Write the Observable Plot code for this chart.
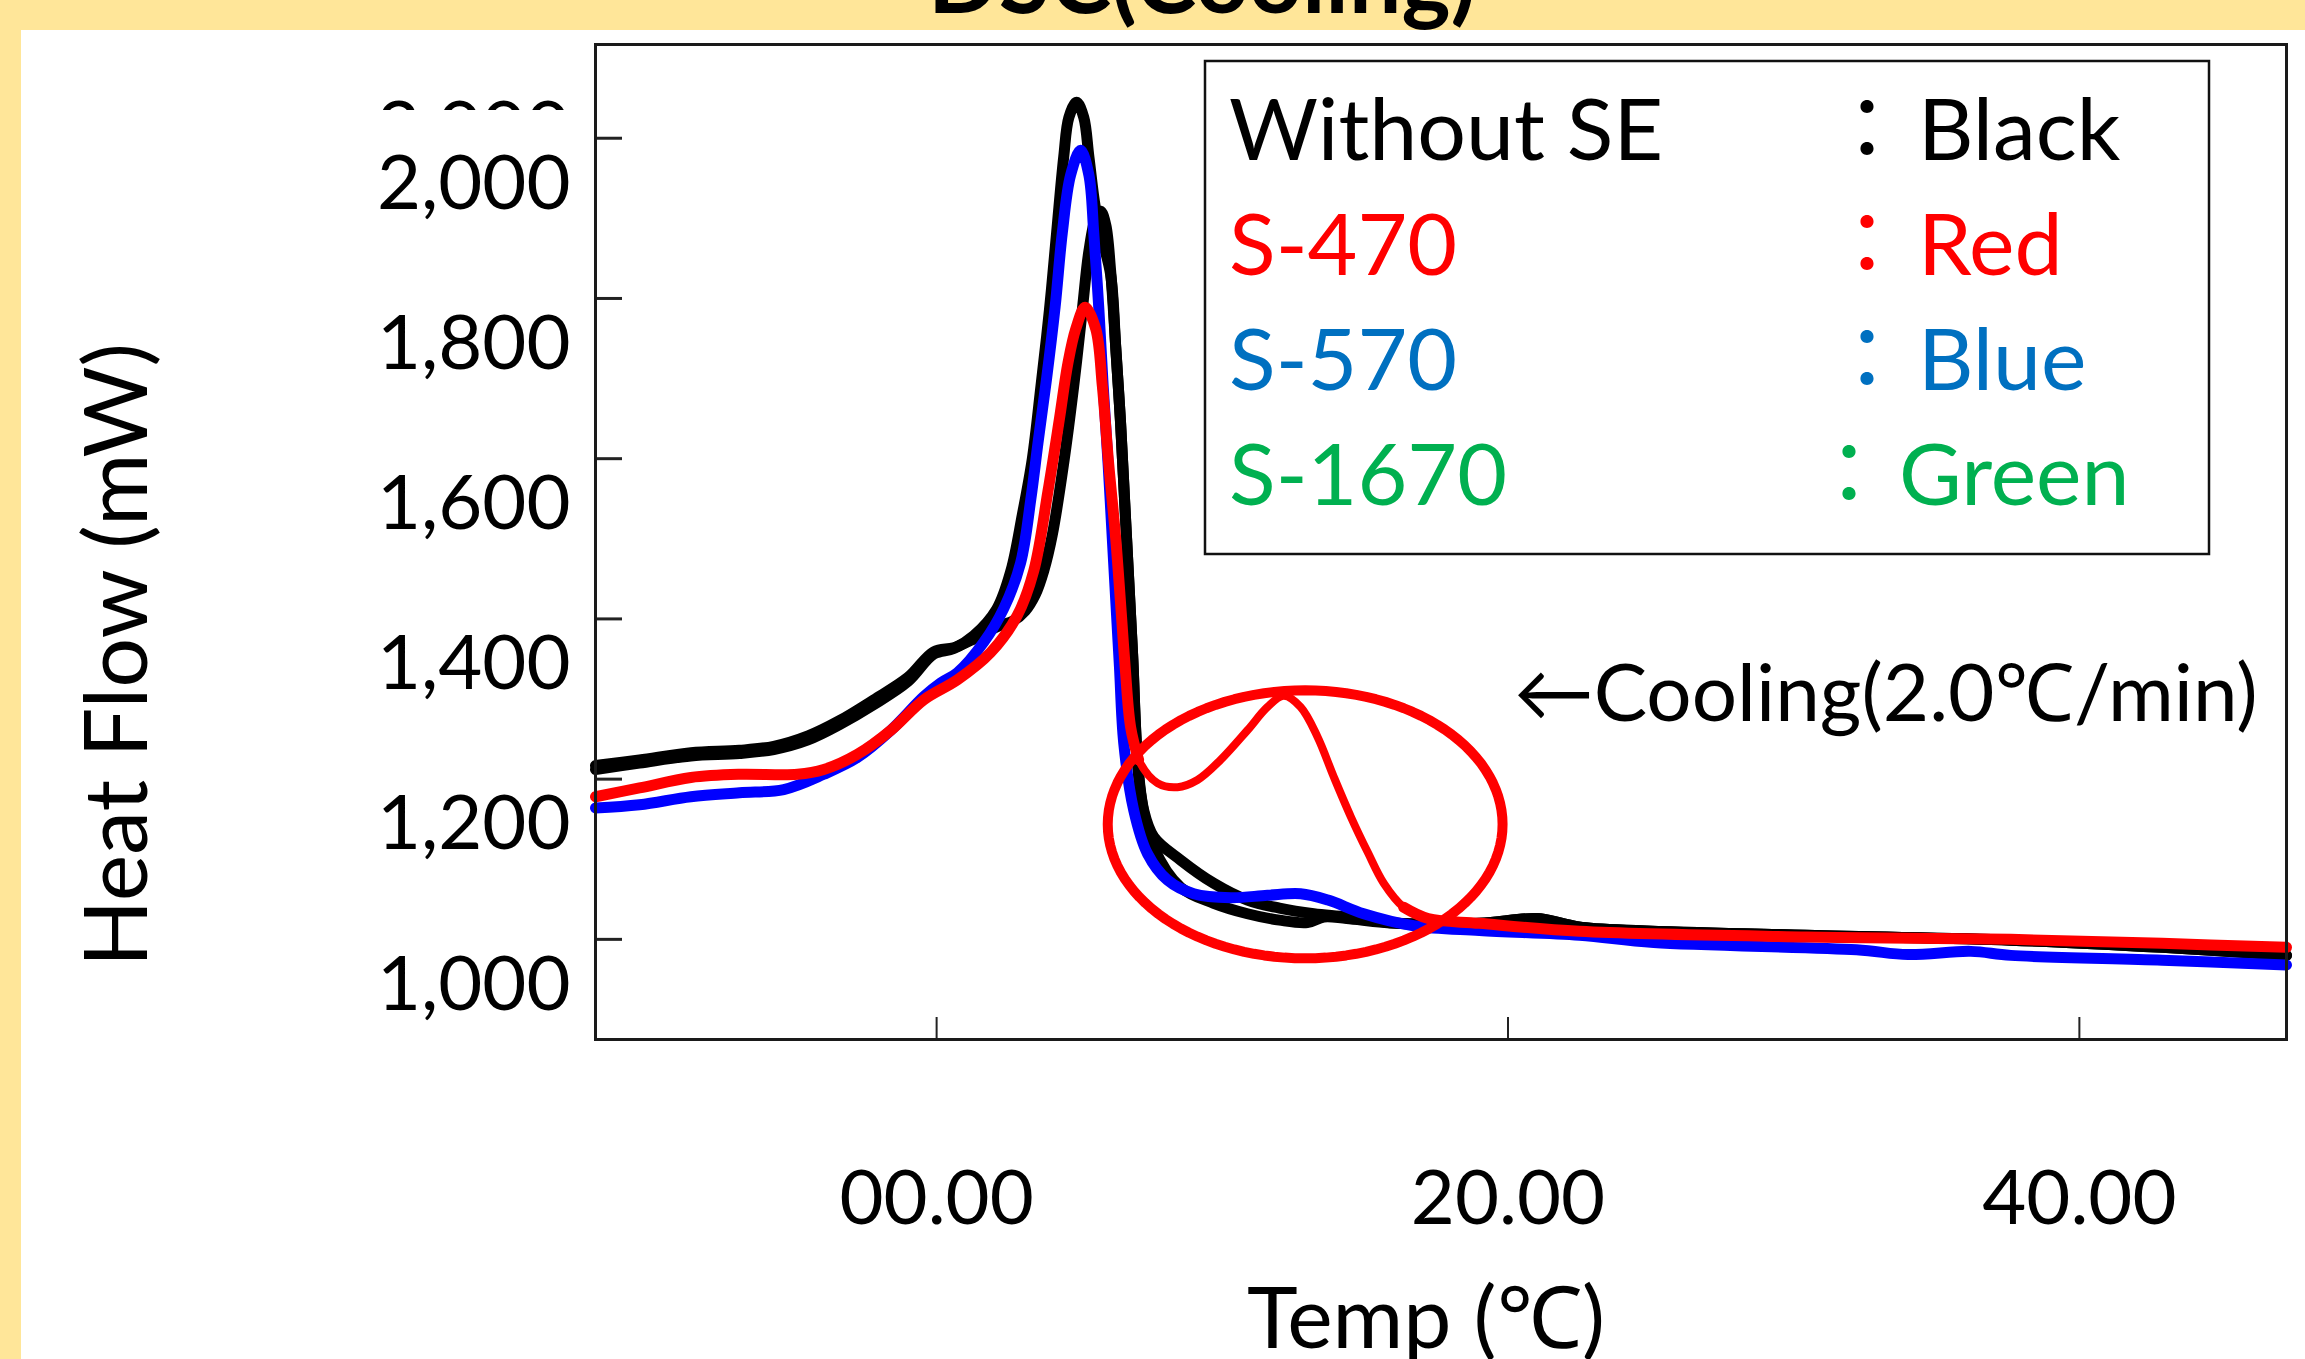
<!DOCTYPE html>
<html>
<head>
<meta charset="utf-8">
<script src="https://cdn.jsdelivr.net/npm/d3@7"></script>
<script src="https://cdn.jsdelivr.net/npm/@observablehq/plot@0.6"></script>
<style>
  html, body { margin: 0; padding: 0; }
  #wrap { position: relative; width: 2305px; height: 1359px; overflow: hidden; background: #FFE699; }
  #panel { position: absolute; left: 21px; top: 30px; right: 0; bottom: 0; background: #ffffff; }
  #chart { position: absolute; left: 0; top: 0; }
</style>
</head>
<body>
<div id="wrap"><div id="panel"></div><div id="chart"></div></div>
<script>
// ---------- Data ----------
const black1Temp = [-11.94,-10.4,-8.6,-6.9,-5.7,-4.5,-3.4,-2.2,-1.0,-0.1,0.6,1.3,2.1,2.6,3.0,3.35,3.65,3.95,4.2,4.45,4.63,4.9,5.15,5.33,5.55,5.75,6.09,6.27,6.44,6.58,6.72,6.86,7.14,7.6,8.54,9.7,10.88,12.0,12.98,13.56,14.35,16.1,19.0,21.0,21.9,22.6,30.45,37.6,42.9,47.25];
const black1Flow = [1212,1220,1229,1232,1237,1249,1268,1293,1322,1356,1363,1379,1412,1460,1530,1600,1690,1786,1882,1977,2026,2045,2026,1977,1915,1880,1830,1739,1644,1548,1452,1356,1182,1115,1065,1045,1032,1024,1021,1028,1026,1020,1020,1026,1020,1015,1005,999,990,980];

const black2Temp = [-11.94,-10.4,-8.6,-6.9,-5.7,-4.5,-3.4,-2.2,-1.0,-0.1,0.6,1.3,2.1,2.7,3.1,3.45,3.75,4.05,4.45,4.8,5.1,5.33,5.57,5.74,5.92,6.09,6.27,6.44,6.58,6.72,6.86,7.03,7.25,7.6,8.54,9.7,10.88,12.0,13.2,14.35,16.1,19.0,21.0,21.9,22.6,30.45,37.6,42.9,47.25];
const black2Flow = [1217,1224,1233,1236,1241,1254,1273,1299,1327,1359,1364,1375,1390,1398,1410,1430,1460,1505,1595,1691,1786,1859,1901,1909,1892,1835,1739,1644,1548,1452,1356,1224,1161,1128,1099,1070,1049,1039,1032,1028,1020,1020,1026,1020,1015,1005,999,990,980];

const blueTemp = [-11.94,-10.4,-8.6,-6.9,-5.35,-3.95,-2.77,-1.6,-0.45,0.14,0.73,1.65,2.35,2.94,3.3,3.55,3.85,4.15,4.4,4.69,5.04,5.33,5.5,5.68,5.83,6.0,6.15,6.3,6.4,6.55,6.9,7.38,8.08,9.0,10.3,11.58,12.74,13.7,14.95,16.7,19.0,22.5,25.1,32.2,34.0,36.2,37.6,42.9,47.25];
const blueFlow = [1164,1168,1178,1183,1187,1206,1227,1261,1303,1320,1333,1371,1413,1470,1550,1620,1700,1790,1882,1954,1985,1954,1882,1786,1691,1595,1500,1404,1340,1245,1161,1107,1074,1057,1052,1055,1057,1049,1032,1017,1011,1005,996,987,981,985,980,974,968];

const redTemp = [-11.94,-10.4,-8.6,-6.9,-4.87,-3.95,-2.77,-1.6,-0.45,0.73,1.89,2.82,3.4,3.9,4.3,4.6,4.87,5.2,5.57,5.8,6.02,6.27,6.47,6.6,6.79,7.07,7.73,8.43,9.13,9.94,10.88,11.58,12.15,12.74,13.33,13.9,14.5,15.1,15.65,16.35,17.2,19.0,22.5,30.45,37.6,42.9,47.25];
const redFlow = [1178,1189,1202,1206,1206,1212,1231,1261,1299,1324,1358,1404,1460,1560,1650,1720,1762,1789,1762,1691,1595,1500,1404,1340,1265,1224,1195,1190,1199,1224,1261,1290,1304,1290,1253,1203,1153,1108,1070,1040,1026,1020,1010,1003,1000,995,990];

const xTicks = [0, 20, 40];
const yTicks = [1000, 1200, 1400, 1600, 1800, 2000];

const legendLabels = ["Without SE", "S-470", "S-570", "S-1670"];
const legendColorNames = ["Black", "Red", "Blue", "Green"];
const legendColors = ["#000000", "#FF0000", "#0070C0", "#00B050"];

const titleText = "DSC(Cooling)";
const xLabel = "Temp (\u2103)";
const yLabel = "Heat Flow (mW)";
const noteText = "\u2190Cooling(2.0\u2103/min)";
// annotation anchors in data units
const note = {x: 20.2, y: 1273};
const ring = {cx: 12.9, cy: 1143.6, rx: 6.91, ry: 167.3};

// ---------- Build tables ----------
const zip = (t, f, s) => t.map((d, i) => ({temp: d, flow: f[i], series: s}));
const black1 = zip(black1Temp, black1Flow, "Without SE (1)");
const black2 = zip(black2Temp, black2Flow, "Without SE (2)");
const blue = zip(blueTemp, blueFlow, "S-570");
const red = zip(redTemp, redFlow, "S-470");
const redA = red.filter(d => d.temp <= 7.07);
const redHump = red.filter(d => d.temp >= 6.79 && d.temp <= 17.2);
const redB = red.filter(d => d.temp >= 16.35);
const ringPts = d3.range(0, 361, 3).map(a => {
  const t = a * Math.PI / 180;
  return {temp: ring.cx + ring.rx * Math.cos(t), flow: ring.cy + ring.ry * Math.sin(t)};
});

const W = 2305, H = 1359;
const mL = 595, mR = 19, mT = 44, mB = 320;
const innerW = W - mL - mR, innerH = H - mT - mB;

const plot = Plot.plot({
  width: W, height: H,
  marginLeft: mL, marginRight: mR, marginTop: mT, marginBottom: mB,
  style: {background: "transparent", color: "black", fontFamily: "Lato, 'Noto Sans', sans-serif", fontSize: "75px", overflow: "visible"},
  x: {domain: [-11.94, 47.25]},
  y: {domain: [875, 2117]},
  marks: [
    Plot.axisX({ticks: xTicks, tickFormat: d3.format("05.2f"), tickSize: 0, tickPadding: 131, label: null, fontSize: 76}),
    Plot.axisY({ticks: yTicks, tickFormat: d3.format(","), tickSize: 0, tickPadding: 25, dy: 46, label: null, fontSize: 76}),
    Plot.ruleY(yTicks, {y: d => d, insetRight: innerW - 27, stroke: "#222", strokeWidth: 3}),
    Plot.ruleX(xTicks, {x: d => d, insetTop: innerH - 22, stroke: "#222", strokeWidth: 2}),
    Plot.line(black1, {x: "temp", y: "flow", stroke: "#000000", strokeWidth: 11, curve: "catmull-rom"}),
    Plot.line(black2, {x: "temp", y: "flow", stroke: "#000000", strokeWidth: 11, curve: "catmull-rom"}),
    Plot.line(blue, {x: "temp", y: "flow", stroke: "#0000FF", strokeWidth: 11, curve: "catmull-rom"}),
    Plot.line(redA, {x: "temp", y: "flow", stroke: "#FF0000", strokeWidth: 11, curve: "catmull-rom"}),
    Plot.line(redHump, {x: "temp", y: "flow", stroke: "#FF0000", strokeWidth: 8, curve: "catmull-rom"}),
    Plot.line(redB, {x: "temp", y: "flow", stroke: "#FF0000", strokeWidth: 11, curve: "catmull-rom"}),
    Plot.line(ringPts, {x: "temp", y: "flow", stroke: "#FF0000", strokeWidth: 10, curve: "linear-closed"}),
    Plot.text([noteText], {x: note.x, y: note.y, text: d => d, textAnchor: "start", lineAnchor: "bottom", fontSize: 80, fill: "black"}),
    Plot.text([yLabel], {frameAnchor: "left", text: d => d, rotate: -90, dx: -477, dy: 113, fontSize: 88, textAnchor: "middle", lineAnchor: "middle", fill: "black"}),
    Plot.text([xLabel], {frameAnchor: "bottom", text: d => d, dx: -15, dy: 308, fontSize: 86, textAnchor: "middle", lineAnchor: "bottom", fill: "black"}),
    Plot.frame({stroke: "#1a1a1a", strokeWidth: 3})
  ]
});

document.getElementById("chart").appendChild(plot);

// ---------- Title (cut off by the top edge), legend and artifacts ----------
const svg = d3.select(plot);
const yS = plot.scale("y");

svg.append("text")
  .attr("x", 1202).attr("y", 13)
  .attr("text-anchor", "middle")
  .style("font-family", "Lato, sans-serif").style("font-weight", "bold").style("font-size", "93px")
  .attr("fill", "black")
  .text(titleText);

// clipped duplicate tick label near the top of the y axis
svg.append("defs").append("clipPath").attr("id", "topClip")
  .append("rect").attr("x", 0).attr("y", 0).attr("width", 590).attr("height", 110);
svg.append("text")
  .attr("clip-path", "url(#topClip)")
  .attr("x", mL - 25).attr("y", yS.apply(2000) + 17)
  .attr("text-anchor", "end")
  .style("font-family", "Lato, sans-serif").style("font-size", "76px")
  .attr("fill", "black")
  .text(d3.format(",")(yTicks[yTicks.length - 1]));

// legend
const lg = svg.append("g").attr("text-anchor", "start");
const box = {x: 1205, y: 61, w: 1004, h: 493};
lg.append("rect").attr("x", box.x).attr("y", box.y).attr("width", box.w).attr("height", box.h)
  .attr("fill", "white").attr("stroke", "#111").attr("stroke-width", 2.5);
legendLabels.forEach((lab, i) => {
  const base = box.y + 99 + i * 115;
  const last = i === legendLabels.length - 1;
  lg.append("text").attr("x", box.x + 24).attr("y", base)
    .attr("text-anchor", "start")
    .style("font-family", "Lato, sans-serif").style("font-size", "86px")
    .attr("fill", legendColors[i]).text(lab);
  lg.append("text").attr("x", last ? box.x + 644 : box.x + 662).attr("y", base)
    .attr("text-anchor", "middle")
    .style("font-family", "'Noto Sans CJK JP', sans-serif").style("font-size", "86px")
    .attr("fill", legendColors[i]).text("\uFF1A");
  lg.append("text").attr("x", last ? box.x + 694 : box.x + 713).attr("y", base)
    .attr("text-anchor", "start")
    .style("font-family", "Lato, sans-serif").style("font-size", "86px")
    .attr("fill", legendColors[i]).text(legendColorNames[i]);
});
</script>
</body>
</html>
